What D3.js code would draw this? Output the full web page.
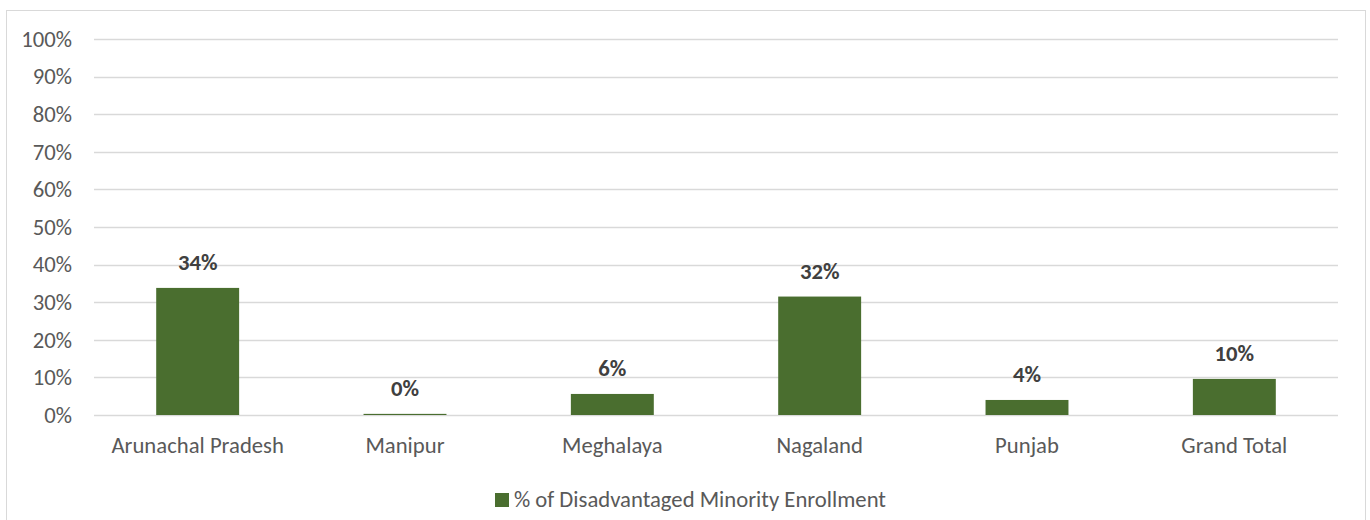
<!DOCTYPE html>
<html>
<head>
<meta charset="utf-8">
<script src="https://cdn.jsdelivr.net/npm/d3@7"></script>
<style>
  body { margin: 0; background: #fff; }
  text { font-family: Carlito, "Liberation Sans", "Open Sans", sans-serif; }
</style>
</head>
<body>
<svg id="chart"></svg>
<script>
const WIDTH = 1370;
const HEIGHT = 520;
const FONT = '22.7px';

// data
const categories = ['Arunachal Pradesh', 'Manipur', 'Meghalaya', 'Nagaland', 'Punjab', 'Grand Total'];
const values = [0.338, 0.003, 0.056, 0.315, 0.040, 0.096];
const labels = ['34%', '0%', '6%', '32%', '4%', '10%'];
const yTicks = [0, 0.1, 0.2, 0.3, 0.4, 0.5, 0.6, 0.7, 0.8, 0.9, 1];
const seriesName = '% of Disadvantaged Minority Enrollment';

const BAR = '#4a6e2f';
const GRID = '#d9d9d9';

const svg = d3.select('#chart').attr('width', WIDTH).attr('height', HEIGHT);

// outer chart border
svg.append('rect')
   .attr('x', 6.5).attr('y', 10.5)
   .attr('width', 1359).attr('height', 520)
   .attr('fill', 'none').attr('stroke', GRID);

const margin = {left: 94, right: 32, top: 39, bottom: 105};

const x = d3.scaleBand()
            .domain(categories)
            .range([margin.left, WIDTH - margin.right])
            .paddingInner(0.6)
            .paddingOuter(0.3);

const y = d3.scaleLinear()
            .domain([0, 1])
            .range([HEIGHT - margin.bottom, margin.top]);

// gridlines
svg.append('g')
   .selectAll('line')
   .data(yTicks)
   .enter()
 .append('line')
   .attr('x1', margin.left).attr('x2', WIDTH - margin.right)
   .attr('y1', d => Math.round(y(d)) + 0.5)
   .attr('y2', d => Math.round(y(d)) + 0.5)
   .attr('stroke', GRID).attr('stroke-width', 1.5);

// y axis tick labels
const yAxis = d3.axisLeft(y)
                .tickValues(yTicks)
                .tickFormat(d3.format('.0%'))
                .tickSize(0)
                .tickPadding(22);
const gy = svg.append('g')
              .attr('transform', `translate(${margin.left},0)`)
              .call(yAxis);
gy.select('.domain').remove();
gy.selectAll('text')
  .attr('fill', '#595959')
  .style('font-size', FONT);

// x axis labels
const xAxis = d3.axisBottom(x).tickSize(0).tickPadding(22);
const gx = svg.append('g')
              .attr('transform', `translate(0,${y(0)})`)
              .call(xAxis);
gx.select('.domain').remove();
gx.selectAll('text')
  .attr('fill', '#595959')
  .style('font-size', FONT);

// bars
svg.append('g')
   .selectAll('rect')
   .data(values)
   .enter()
 .append('rect')
   .attr('x', (d, i) => x(categories[i]))
   .attr('y', d => y(d))
   .attr('width', x.bandwidth())
   .attr('height', d => y(0) - y(d))
   .attr('fill', BAR);

// data labels
svg.append('g')
   .selectAll('text')
   .data(values)
   .enter()
 .append('text')
   .attr('x', (d, i) => x(categories[i]) + x.bandwidth() / 2)
   .attr('y', d => y(d) - 18)
   .attr('text-anchor', 'middle')
   .attr('fill', '#404040')
   .style('font-size', FONT)
   .style('font-weight', 'bold')
   .text((d, i) => labels[i]);

// legend
const legend = svg.append('g').attr('transform', 'translate(495,493)');
legend.append('rect')
      .attr('width', 14).attr('height', 14)
      .attr('fill', BAR);
legend.append('text')
      .attr('x', 19).attr('y', 14)
      .attr('fill', '#595959')
      .style('font-size', FONT)
      .text(seriesName);
</script>
</body>
</html>
